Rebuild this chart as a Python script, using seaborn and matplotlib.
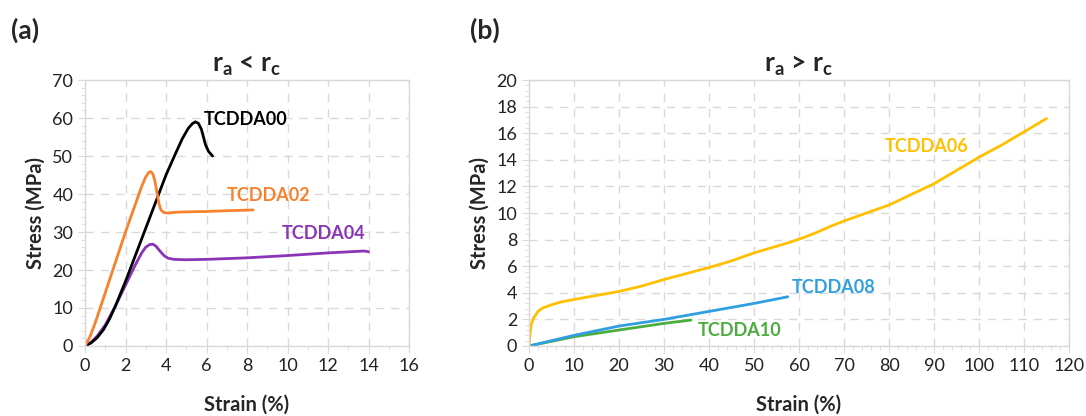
import numpy as np
import pandas as pd
import seaborn as sns
import matplotlib.pyplot as plt
from matplotlib.ticker import MultipleLocator

# panel (a): r_a < r_c
a00_x = [0, 0.3, 0.6, 0.9, 1.2, 1.5, 2.0, 2.5, 3.0, 3.5, 4.0, 4.5, 4.8, 5.1, 5.3, 5.45,
         5.6, 5.75, 5.85, 5.95, 6.1, 6.3]
a00_y = [0, 0.8, 2.2, 4.2, 7, 10.5, 17, 24, 31, 38, 45, 51, 54.5, 57.3, 58.5, 59,
         58.6, 57, 55, 53, 51.2, 50]
a02_x = [0, 0.25, 0.5, 0.75, 1.0, 1.5, 2.0, 2.5, 2.8, 3.0, 3.15, 3.25, 3.35, 3.45, 3.55,
         3.65, 3.75, 3.9, 4.1, 4.5, 5.0, 6.0, 7.0, 8.3]
a02_y = [0, 2.5, 6, 10, 14, 22, 30, 37.5, 42, 44.5, 45.7, 45.9, 45.3, 43.5, 40.5,
         37.5, 35.8, 35.1, 35, 35.2, 35.3, 35.4, 35.6, 35.8]
a04_x = [0, 0.3, 0.6, 1.0, 1.5, 2.0, 2.5, 2.8, 3.0, 3.2, 3.35, 3.5, 3.7, 3.9, 4.1, 4.4,
         5.0, 6.0, 8.0, 10.0, 12.0, 13.8, 14.0]
a04_y = [0, 1, 2.6, 5.5, 10.5, 16, 21.5, 24.5, 26, 26.7, 26.8, 26.3, 25, 23.8, 23.1, 22.8,
         22.7, 22.8, 23.2, 23.8, 24.5, 25, 24.8]

# panel (b): r_a > r_c
b06_x = [0, 0.2, 0.5, 1, 2, 3, 5, 7, 10, 15, 20, 25, 30, 40, 45, 50, 55, 58, 61, 64, 67,
         70, 75, 80, 85, 90, 95, 100, 105, 110, 115]
b06_y = [0, 0.8, 1.6, 2.1, 2.6, 2.85, 3.1, 3.3, 3.5, 3.8, 4.1, 4.5, 5, 5.9, 6.4, 7, 7.5,
         7.8, 8.15, 8.55, 9.0, 9.4, 10, 10.6, 11.4, 12.2, 13.2, 14.2, 15.1, 16.1, 17.1]
b08_x = [0, 10, 20, 30, 40, 50, 57.5]
b08_y = [0, 0.8, 1.5, 2.0, 2.6, 3.2, 3.7]
b10_x = [0, 10, 20, 30, 36]
b10_y = [0, 0.7, 1.2, 1.7, 1.95]

sns.set_style("white")
plt.rcParams['font.family'] = ['Lato', 'DejaVu Sans']
plt.rcParams['mathtext.fontset'] = 'custom'
plt.rcParams['mathtext.rm'] = 'Lato:bold'
plt.rcParams['mathtext.bf'] = 'Lato:bold'

fig = plt.figure(figsize=(10.86, 4.16), dpi=100)
ax1 = fig.add_axes([85 / 1086, 1 - 346 / 416, 324 / 1086, 266 / 416])
ax2 = fig.add_axes([529 / 1086, 1 - 346 / 416, 540 / 1086, 266 / 416])

grid_c = '#d9d9d9'


def style_axes(ax, xmax, xmaj, xmin, ymax, ymaj, ymin):
    ax.set_xlim(0, xmax)
    ax.set_ylim(0, ymax)
    ax.xaxis.set_major_locator(MultipleLocator(xmaj))
    ax.xaxis.set_minor_locator(MultipleLocator(xmin))
    ax.yaxis.set_major_locator(MultipleLocator(ymaj))
    ax.yaxis.set_minor_locator(MultipleLocator(ymin))
    ax.grid(True, which='major', color=grid_c, linestyle=(0, (6, 5)), linewidth=1)
    for s in ax.spines.values():
        s.set_color(grid_c)
        s.set_linewidth(1)
    ax.tick_params(which='major', direction='out', length=5, color=grid_c,
                   labelsize=13, labelcolor='#222222', bottom=True, left=True)
    ax.tick_params(which='minor', direction='out', length=3, color=grid_c,
                   bottom=True, left=True)
    ax.set_xlabel('Strain (%)', fontsize=14.5, fontweight='bold', labelpad=15)
    ax.set_ylabel('Stress (MPa)', fontsize=14.5, fontweight='bold', labelpad=5)
    ax.set_axisbelow(True)


def draw(ax, x, y, color):
    sns.lineplot(x=x, y=y, ax=ax, color=color, linewidth=2, sort=False,
                 estimator=None, solid_joinstyle='round', solid_capstyle='round')


draw(ax1, a04_x, a04_y, '#8a35b8')
draw(ax1, a00_x, a00_y, '#000000')
draw(ax1, a02_x, a02_y, '#f7812c')
style_axes(ax1, 16, 2, 1, 70, 10, 2)
ax1.set_title(r'r$_\mathregular{a}$ < r$_\mathregular{c}$', fontsize=19,
              fontweight='bold', pad=6)
ax1.text(5.85, 59.5, 'TCDDA00', color='#000000', fontsize=13, fontweight='bold',
         va='center')
ax1.text(7.0, 39.5, 'TCDDA02', color='#f7812c', fontsize=13, fontweight='bold',
         va='center')
ax1.text(9.7, 29.6, 'TCDDA04', color='#8a35b8', fontsize=13, fontweight='bold',
         va='center')

draw(ax2, b10_x, b10_y, '#4bad3e')
draw(ax2, b08_x, b08_y, '#2f9fe0')
draw(ax2, b06_x, b06_y, '#ffc000')
style_axes(ax2, 120, 10, 2, 20, 2, 0.4)
ax2.set_title(r'r$_\mathregular{a}$ > r$_\mathregular{c}$', fontsize=19,
              fontweight='bold', pad=6)
ax2.text(79, 15, 'TCDDA06', color='#ffc000', fontsize=13, fontweight='bold',
         va='center')
ax2.text(58.5, 4.4, 'TCDDA08', color='#2f9fe0', fontsize=13, fontweight='bold',
         va='center')
ax2.text(37.5, 1.2, 'TCDDA10', color='#4bad3e', fontsize=13, fontweight='bold',
         va='center')

fig.text(11 / 1086, 1 - 30 / 416, '(a)', fontsize=19, fontweight='bold', va='center')
fig.text(470 / 1086, 1 - 30 / 416, '(b)', fontsize=19, fontweight='bold', va='center')

fig.savefig('out.png', dpi=100)
